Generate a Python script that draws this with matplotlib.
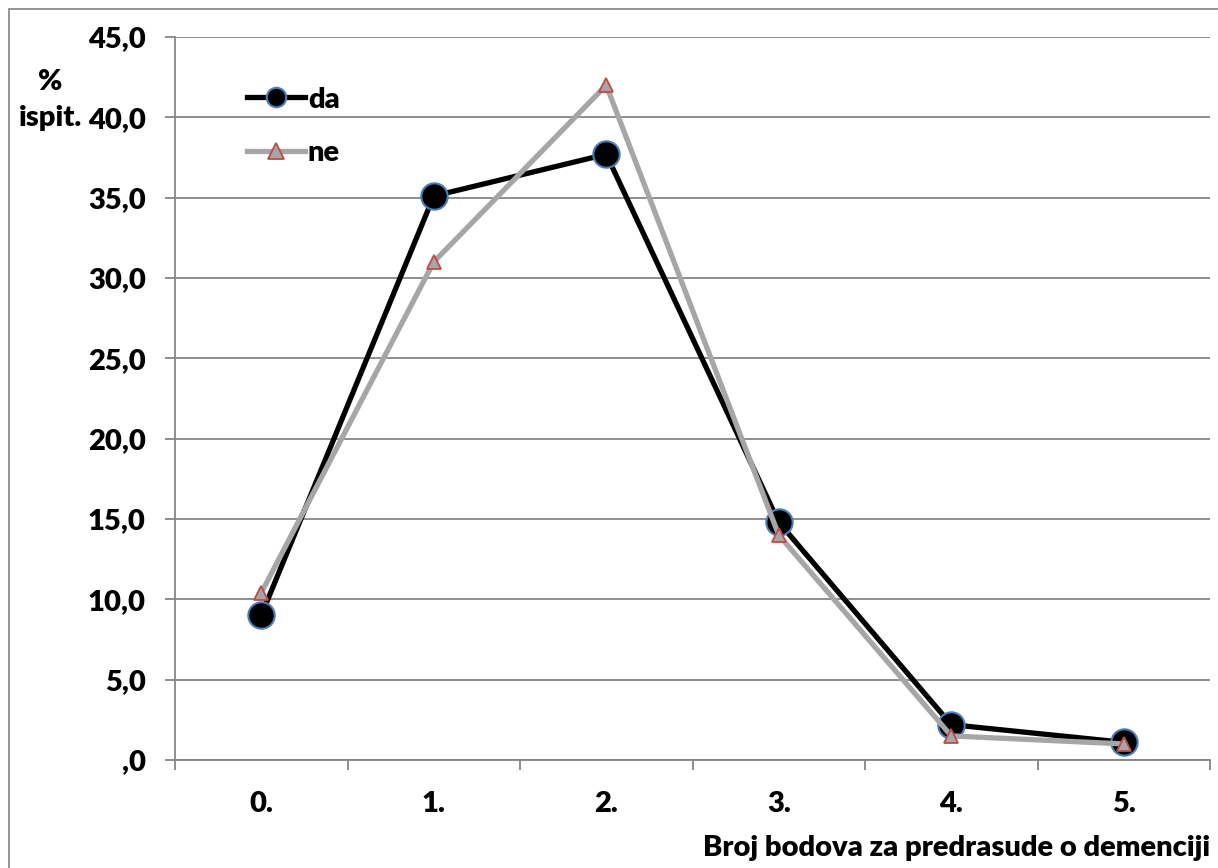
import matplotlib
matplotlib.use("Agg")
import matplotlib.pyplot as plt
from matplotlib.patches import Rectangle
from matplotlib.ticker import FixedLocator, FuncFormatter

categories = ["0.", "1.", "2.", "3.", "4.", "5."]
da_values = [9.0, 35.1, 37.7, 14.8, 2.2, 1.1]
ne_values = [10.4, 31.0, 42.0, 14.0, 1.5, 1.0]
y_ticks = [0, 5, 10, 15, 20, 25, 30, 35, 40, 45]

FW = 'heavy'
FS = 21
plt.rcParams['font.family'] = ['Lato', 'DejaVu Sans']
plt.rcParams['font.weight'] = FW

W, H = 1218, 868
fig = plt.figure(figsize=(W / 100, H / 100), dpi=100)
ax = fig.add_axes([175 / W, 1 - 760 / H, (1210 - 175) / W, (760 - 37) / H])

grid_c = '#868686'
x = list(range(len(categories)))
ax.plot(x, da_values, color='black', lw=3.8, marker='o', markersize=19,
        markerfacecolor='black', markeredgecolor='#4a7ebb', markeredgewidth=1.5,
        label='da', zorder=3, solid_joinstyle='round')
ax.plot(x, ne_values, color='#a6a6a6', lw=3.8, marker='^', markersize=10,
        markerfacecolor='#a6a6a6', markeredgecolor='#be4b48', markeredgewidth=1.3,
        label='ne', zorder=4, solid_joinstyle='round')

ax.set_xlim(-0.5, len(categories) - 0.5)
ax.set_ylim(0, 45)
ax.yaxis.set_major_locator(FixedLocator(y_ticks))
ax.yaxis.set_major_formatter(FuncFormatter(
    lambda v, p: (',0' if v == 0 else f"{v:.1f}".replace('.', ','))))
ax.set_xticks(x)
ax.set_xticklabels(categories)
ax.xaxis.set_minor_locator(FixedLocator([i - 0.5 for i in range(len(categories) + 1)]))

ax.grid(axis='y', color=grid_c, lw=1.3)
ax.set_axisbelow(True)
for s in ['top', 'right']:
    ax.spines[s].set_visible(False)
for s in ['left', 'bottom']:
    ax.spines[s].set_color(grid_c)
    ax.spines[s].set_linewidth(1.3)

ax.tick_params(axis='y', which='major', length=7, width=1.3, color=grid_c,
               pad=14, labelsize=FS)
ax.tick_params(axis='x', which='major', length=0, pad=22, labelsize=FS)
ax.tick_params(axis='x', which='minor', length=7, width=1.3, color=grid_c)
for lbl in ax.get_xticklabels() + ax.get_yticklabels():
    lbl.set_fontweight(FW)

leg = ax.legend(loc='upper left', bbox_to_anchor=(60 / 1035, 1 - 38 / 723),
                frameon=False, fontsize=FS, handlelength=2.0, handletextpad=0.1,
                labelspacing=0.95, borderaxespad=0)
hs = leg.legend_handles
hs[0].set_markersize(14)
hs[1].set_markersize(11)
for t in leg.get_texts():
    t.set_fontweight(FW)

fig.text(50 / W, 1 - 82 / H, '%', ha='center', va='center', fontsize=FS, fontweight=FW)
fig.text(50 / W, 1 - 118 / H, 'ispit.', ha='center', va='center', fontsize=FS, fontweight=FW)
fig.text(1210 / W, 1 - 848 / H, 'Broj bodova za predrasude o demenciji', ha='right',
         va='center', fontsize=FS, fontweight=FW)

fig.patches.append(Rectangle((9 / W, -0.1), 1.2, 1 - 9 / H + 0.1, transform=fig.transFigure,
                             fill=False, edgecolor='#8c8c8c', lw=1.3))

fig.savefig('out.png', dpi=100)
